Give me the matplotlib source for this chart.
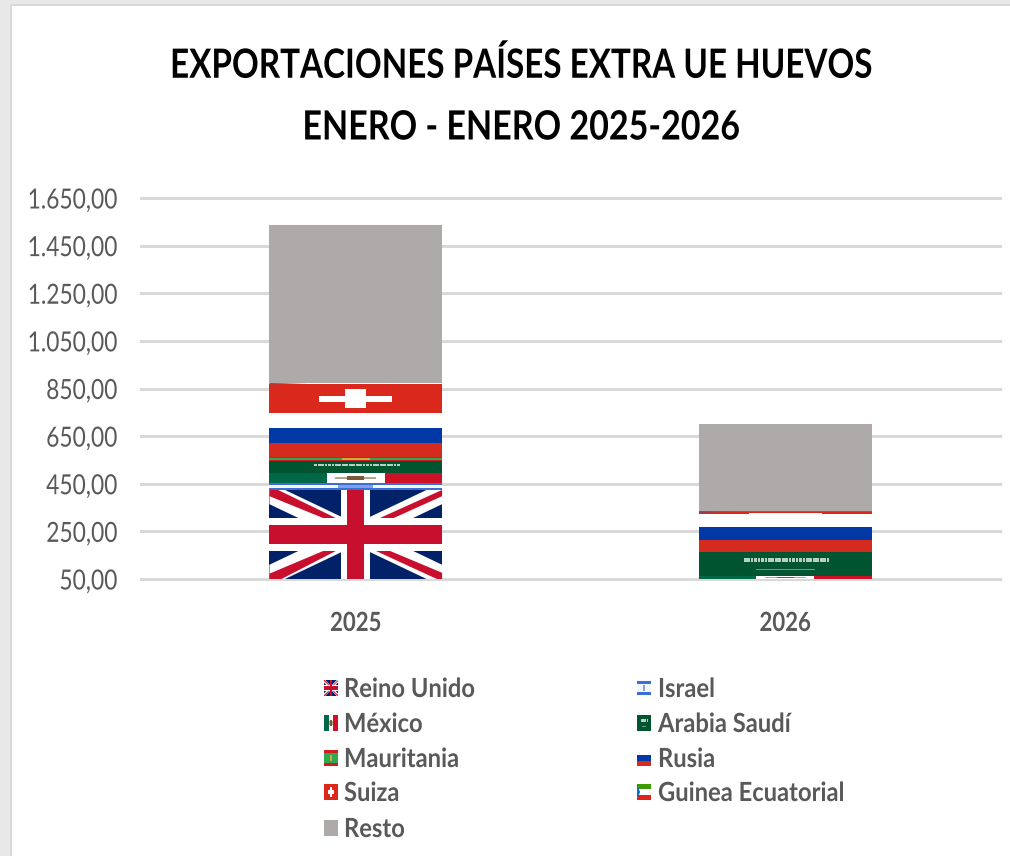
import matplotlib
matplotlib.use("Agg")
import matplotlib.pyplot as plt
from matplotlib.patches import Polygon, Rectangle
from matplotlib.patheffects import AbstractPathEffect
from matplotlib.transforms import Affine2D

plt.rcParams['font.family'] = ['Lato', 'DejaVu Sans']

years = ['2025', '2026']
paises = ['Reino Unido', 'Israel', 'México', 'Arabia Saudí', 'Mauritania',
          'Rusia', 'Suiza', 'Guinea Ecuatorial', 'Resto']
reino_unido = [424, 20]
israel = [29, 10]
mexico = [41, 33]
arabia = [53, 100]
mauritania = [14, 0]
rusia = [185, 158]
suiza = [122, 9]
guinea = [5, 4]
resto = [664, 368]
series = [reino_unido, israel, mexico, arabia, mauritania, rusia, suiza, guinea, resto]
y_ticks = [50, 250, 450, 650, 850, 1050, 1250, 1450, 1650]
y_labels = ['50,00', '250,00', '450,00', '650,00', '850,00',
            '1.050,00', '1.250,00', '1.450,00', '1.650,00']
legend_col1 = ['Reino Unido', 'México', 'Mauritania', 'Suiza', 'Resto']
legend_col2 = ['Israel', 'Arabia Saudí', 'Rusia', 'Guinea Ecuatorial']

W, H = 1010, 856
GREY_TEXT = '#595959'
GRID = '#d9d9d9'


def px(x):
    return x / W


def py(y):
    return 1 - y / H


def box(x0, y0, x1, y1):
    return [(x0, y0), (x1, y0), (x1, y1), (x0, y1)]


class Squeeze(AbstractPathEffect):
    # no condensed font here, so narrow the glyphs around an anchor pixel
    def __init__(self, factor, anchor):
        super().__init__()
        self.factor = factor
        self.anchor = anchor

    def draw_path(self, renderer, gc, tpath, affine, rgbFace=None):
        squeeze = Affine2D().translate(-self.anchor, 0).scale(self.factor, 1).translate(self.anchor, 0)
        renderer.draw_path(gc, tpath, affine + squeeze, rgbFace)


def flag_shapes(name):
    # everything in a unit square, gets stretched to the bar like excel does
    if name == 'Reino Unido':
        navy, red = '#012169', '#c8102e'
        return [
            (box(0, 0, 1, 1), navy),
            ([(0, 0), (0.09, 0), (1, 0.84), (1, 1), (0.91, 1), (0, 0.16)], 'white'),
            ([(1, 0), (0.91, 0), (0, 0.84), (0, 1), (0.09, 1), (1, 0.16)], 'white'),
            ([(0, 1), (0.05, 1), (0.40, 0.67), (0.33, 0.67), (0, 0.93)], red),
            ([(0.60, 0.33), (0.68, 0.33), (1, 0.07), (1, 0.0), (0.97, 0)], red),
            ([(1, 1), (1, 0.93), (0.68, 0.65), (0.60, 0.65)], red),
            ([(0, 0), (0.07, 0), (0.40, 0.33), (0.33, 0.33), (0, 0.06)], red),
            (box(0, 0.31, 1, 0.69), 'white'),
            (box(0.415, 0, 0.585, 1), 'white'),
            (box(0, 0.39, 1, 0.61), red),
            (box(0.45, 0, 0.55, 1), red),
        ]
    if name == 'Israel':
        blue = '#3b6fd6'
        return [
            (box(0, 0, 1, 1), '#f4f7ff'),
            (box(0, 0.05, 1, 0.22), blue),
            (box(0, 0.78, 1, 0.95), blue),
            (box(0.4, 0.3, 0.6, 0.7), '#7f9fe6'),
        ]
    if name == 'México':
        return [
            (box(0, 0, 0.333, 1), '#006847'),
            (box(0.333, 0, 0.667, 1), 'white'),
            (box(0.667, 0, 1, 1), '#ce1126'),
            (box(0.38, 0.38, 0.62, 0.62), '#b8a58a'),
            (box(0.45, 0.3, 0.55, 0.7), '#7a5a3a'),
        ]
    if name == 'Arabia Saudí':
        shapes = [(box(0, 0, 1, 1), '#005430')]
        for i in range(25):
            x = 0.26 + i * 0.02
            shapes.append((box(x, 0.58, x + 0.016, 0.74), '#b7d0c2'))
        shapes.append((box(0.33, 0.24, 0.67, 0.29), '#6f9f88'))
        return shapes
    if name == 'Mauritania':
        return [
            (box(0, 0, 1, 1), '#d01c1f'),
            (box(0, 0.2, 1, 0.8), '#2fa84f'),
            (box(0.42, 0.3, 0.58, 0.7), '#c9b037'),
        ]
    if name == 'Rusia':
        return [
            (box(0, 0, 1, 0.333), '#d52b1e'),
            (box(0, 0.333, 1, 0.667), '#0039a6'),
            (box(0, 0.667, 1, 1), 'white'),
        ]
    if name == 'Suiza':
        return [
            (box(0, 0, 1, 1), '#da291c'),
            (box(0.29, 0.4, 0.71, 0.6), 'white'),
            (box(0.44, 0.18, 0.56, 0.83), 'white'),
        ]
    if name == 'Guinea Ecuatorial':
        return [
            (box(0, 0.667, 1, 1), '#3e9a00'),
            (box(0, 0.333, 1, 0.667), 'white'),
            (box(0, 0, 1, 0.333), '#e32118'),
            ([(0, 0), (0.22, 0.5), (0, 1)], '#0073ce'),
        ]
    return [(box(0, 0, 1, 1), '#aeaaaa')]


def draw_flag(name, x, y, w, h, base, add):
    trans = Affine2D().scale(w, h).translate(x, y) + base
    for verts, color in flag_shapes(name):
        add(Polygon(verts, closed=True, facecolor=color, edgecolor='none',
                    linewidth=0, transform=trans))


fig = plt.figure(figsize=(W / 100, H / 100), dpi=100, facecolor='white')

# grey window frame around the pasted chart
fig.add_artist(Rectangle((0, 0), px(10), 1, transform=fig.transFigure, facecolor='#e8e8e8', edgecolor='none'))
fig.add_artist(Rectangle((0, py(4)), 1, 4 / H, transform=fig.transFigure, facecolor='#e8e8e8', edgecolor='none'))
fig.add_artist(Rectangle((px(10), 0), 2 / W, py(4), transform=fig.transFigure, facecolor=GRID, edgecolor='none'))
fig.add_artist(Rectangle((px(10), py(6)), 1, 2 / H, transform=fig.transFigure, facecolor=GRID, edgecolor='none'))

ax = fig.add_axes([px(141), py(579), px(1000) - px(141), py(198) - py(579)])
ax.set_xlim(-0.5, 1.5)
ax.set_ylim(50, 1650)
ax.set_autoscale_on(False)

bottoms = [0, 0]
for name, values in zip(paises, series):
    bars = ax.bar(range(len(years)), values, width=0.402, bottom=bottoms,
                  color='none', linewidth=0, zorder=3)
    for rect, val in zip(bars, values):
        if val <= 0:
            continue
        # the part under the axis minimum is cut off, flag fills what is left
        y0 = max(rect.get_y(), 50)
        y1 = rect.get_y() + rect.get_height()
        draw_flag(name, rect.get_x(), y0, rect.get_width(), y1 - y0, ax.transData,
                  lambda p: ax.add_patch(p).set_zorder(3))
    bottoms = [b + v for b, v in zip(bottoms, values)]

ax.set_yticks(y_ticks)
ax.set_yticklabels(y_labels, fontsize=20, color=GREY_TEXT)
ax.set_xticks(range(len(years)))
ax.set_xticklabels(years, fontsize=19, fontweight='bold', color=GREY_TEXT)
ax.tick_params(axis='both', length=0)
ax.tick_params(axis='y', pad=17)
ax.tick_params(axis='x', pad=23)
ax.grid(axis='y', color=GRID, linewidth=2.2, zorder=0, clip_on=False)
ax.set_axisbelow(True)
for spine in ax.spines.values():
    spine.set_visible(False)

for label in ax.get_yticklabels():
    label.set_path_effects([Squeeze(0.82, 118)])
for i, label in enumerate(ax.get_xticklabels()):
    label.set_path_effects([Squeeze(0.84, ax.transData.transform((i, 50))[0])])

for text, row, factor in [('EXPORTACIONES PAÍSES EXTRA UE HUEVOS', 66, 0.824),
                          ('ENERO - ENERO 2025-2026', 128, 0.845)]:
    t = fig.text(px(521), py(row), text, ha='center', va='center',
                 fontsize=29, fontweight='bold', color='black')
    t.set_path_effects([Squeeze(factor, 521)])

# legend, two columns like the original
rows = [688, 723, 758, 792, 828]
for labels, icon_x, text_x in [(legend_col1, 324, 344), (legend_col2, 637, 658)]:
    for label, row in zip(labels, rows):
        draw_flag(label, px(icon_x), py(row + 8), 14 / W, 16 / H, fig.transFigure, fig.add_artist)
        t = fig.text(px(text_x), py(row + 1), label, ha='left', va='center',
                     fontsize=19, fontweight='bold', color=GREY_TEXT)
        t.set_path_effects([Squeeze(0.9, text_x)])

fig.savefig('out.png', dpi=100)
